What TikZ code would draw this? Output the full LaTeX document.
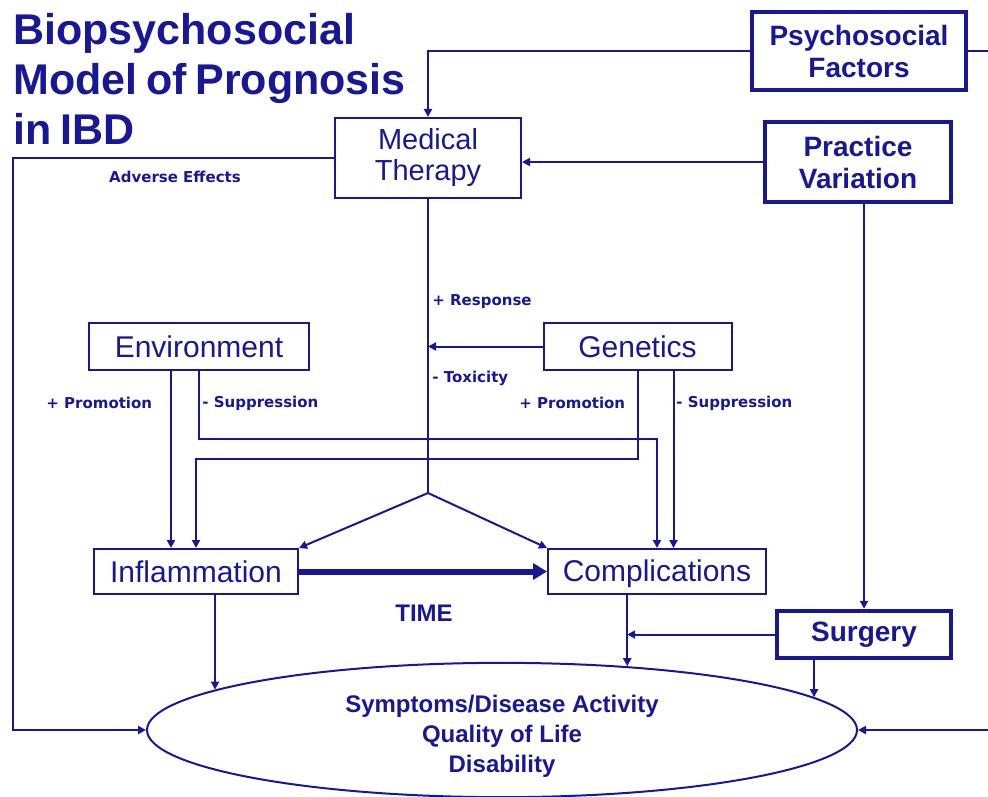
\documentclass[tikz,border=0pt]{standalone}
\usepackage{fontspec}
\setmainfont{Liberation Sans}
\newfontfamily\lblfont{DejaVu Sans}
\usetikzlibrary{positioning,arrows.meta,shapes.geometric,calc}
\definecolor{navy}{RGB}{24,24,150}
\newcommand{\titlefont}{\fontsize{21.5}{25}\selectfont\bfseries\spaceskip=0.2em\relax}

\begin{document}
\begin{tikzpicture}[
        x=0.5pt, y=-0.5pt,
        >={Triangle[length=4pt,width=4pt]},
        box/.style={rectangle, draw=navy, line width=1pt, text=navy, align=center,
                    inner sep=0pt, font=\fontsize{15}{16}\selectfont},
        keybox/.style={box, line width=2.2pt, font=\fontsize{14}{16}\selectfont\bfseries},
        lbl/.style={text=navy, inner sep=0pt, anchor=west,
                    font=\lblfont\bfseries\fontsize{7.5}{9}\selectfont},
        link/.style={draw=navy, line width=1pt},
        arr/.style={link, ->},
    ]
        \useasboundingbox (0,0) rectangle (988,796);
        \node[anchor=north west, inner sep=0pt, align=left, text=navy, font=\titlefont]
            (title) at (13,13) {Biopsychosocial\\Model of Prognosis\\in IBD};

        % boxes
        \node[keybox, minimum width=107pt, minimum height=39pt] (psy) at (859,51) {Psychosocial\\Factors};
        \node[box, minimum width=93pt, minimum height=40pt, font=\fontsize{14.5}{15.5}\selectfont]
            (med) at (428,158) {Medical\\Therapy};
        \node[keybox, minimum width=93pt, minimum height=40pt] (prac) at (858,162) {Practice\\Variation};
        \node[box, minimum width=110pt, minimum height=23.5pt] (env) at (199,346.5) {Environment};
        \node[box, minimum width=94pt, minimum height=23.5pt] (gen) at (637.5,346.5) {Genetics};
        \node[box, minimum width=102pt, minimum height=22.5pt] (inf) at (196,571.5) {Inflammation};
        \node[box, minimum width=109pt, minimum height=22.5pt, text height=11pt, text depth=1pt]
            (comp) at (657,571.5) {Complications};
        \node[keybox, minimum width=87pt, minimum height=23.5pt] (surg) at (864,634.5) {Surgery};
        \node[ellipse, draw=navy, line width=1pt, text=navy, align=center, inner sep=0pt,
              minimum width=355pt, minimum height=67pt, font=\fontsize{12}{15}\selectfont\bfseries]
            (sym) at (502,730) {\rule{0pt}{15pt}Symptoms/Disease Activity\\Quality of Life\\Disability};

        \coordinate (apex) at (428,493);
        \coordinate (lft) at (13,730);
        \coordinate (envturn) at (657,439);
        \coordinate (genturn) at (196,459);
        \coordinate (edgeA) at (988,51);
        \coordinate (edgeB) at (988,730);

        % connectors
        \draw[arr] (psy.west) -| (med.north);
        \draw[link] (psy.east) -- (edgeA);
        \draw[arr] (med.west) -| (lft) -- (sym.west);
        \draw[arr] (prac.west) -- (prac.west -| med.east);
        \draw[arr] (prac.south -| surg.north) -- (surg.north);
        \draw[link] (med.south) -- (apex);
        \draw[arr] (apex) -- (inf.north east);
        \draw[arr] (apex) -- (comp.north west);
        \draw[arr] (gen.west) -- (gen.west -| apex);
        \draw[arr] ([xshift=-14pt]env.south) -- ([xshift=-14pt]env.south |- inf.north);
        \draw[arr] (env.south) |- (envturn) -- (comp.north);
        \draw[arr] (gen.south) |- (genturn) -- (inf.north);
        \draw[arr] ([xshift=18pt]gen.south) -- ([xshift=18pt]gen.south |- comp.north);
        \draw[navy, line width=3pt, -{Triangle[length=7pt,width=8pt]}] (inf.east) -- (comp.west);
        \draw[arr] (sym.172.9 |- inf.south) -- (sym.172.9);
        \draw[arr] (sym.27.1 |- comp.south) -- (sym.27.1);
        \draw[arr] (surg.west) -- (surg.west -| sym.27.1);
        \draw[arr] (sym.6 |- surg.south) -- (sym.6);
        \draw[arr] (edgeB) -- (sym.east);

        % labels
        \node[lbl, anchor=center] (adv) at (175,177) {Adverse Effects};
        \foreach \nm/\x/\y/\txt in {resp/432/302/{+ Response}, tox/432/378/{- Toxicity},
                                    epro/46/403/{+ Promotion}, esup/202/403/{- Suppression},
                                    gpro/519/403/{+ Promotion}, gsup/676/403/{- Suppression}} {
            \node[lbl] (\nm) at (\x,\y) {\txt};
        }
        \node[text=navy, inner sep=0pt, font=\fontsize{12}{14}\selectfont\bfseries] (time) at (424,613) {TIME};
\end{tikzpicture}
\end{document}
